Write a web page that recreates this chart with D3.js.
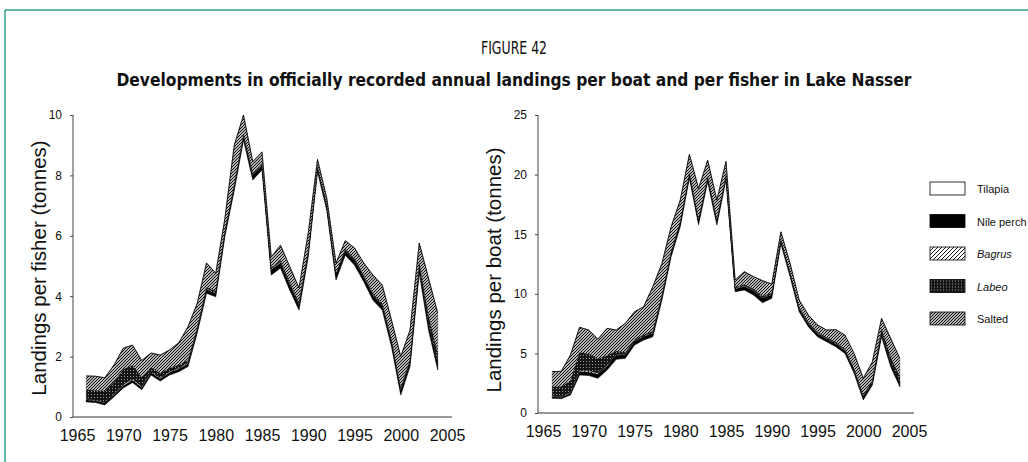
<!DOCTYPE html>
<html>
<head>
<meta charset="utf-8">
<script src="https://cdn.jsdelivr.net/npm/d3@7"></script>
<style>
  body { margin: 0; background: #fff; }
  svg { display: block; font-family: "Liberation Sans", Arial, sans-serif; }
</style>
</head>
<body>
<svg id="chart" width="1028" height="462"></svg>
<script>
const years = d3.range(1966, 2005);
const species = ["Tilapia", "Nile perch", "Bagrus", "Labeo", "Salted"];
const xTicks = [1965, 1970, 1975, 1980, 1985, 1990, 1995, 2000, 2005];

// landings per fisher (tonnes), 1966-2004
const fisherTilapia = [0.50, 0.48, 0.40, 0.67, 0.96, 1.14, 0.90, 1.39, 1.19, 1.39, 1.50, 1.67, 2.78, 4.10, 3.98, 6.00, 7.50, 9.17, 7.85, 8.18,
  4.70, 4.93, 4.20, 3.54, 5.30, 8.12, 6.85, 4.54, 5.36, 5.03, 4.48, 3.87, 3.54, 2.33, 0.73, 1.67, 4.77, 2.88, 1.56];
const fisherNilePerch = [0.06, 0.06, 0.06, 0.07, 0.08, 0.08, 0.08, 0.08, 0.08, 0.08, 0.09, 0.10, 0.10, 0.12, 0.12, 0.12, 0.12, 0.12, 0.15, 0.15,
  0.18, 0.18, 0.18, 0.18, 0.15, 0.12, 0.12, 0.15, 0.15, 0.15, 0.15, 0.15, 0.15, 0.15, 0.15, 0.15, 0.15, 0.20, 0.20];
const fisherBagrus = [0.02, 0.02, 0.02, 0.03, 0.04, 0.04, 0.03, 0.03, 0.03, 0.03, 0.03, 0.03, 0.03, 0.03, 0.03, 0.03, 0.03, 0.03, 0.03, 0.03,
  0.03, 0.03, 0.03, 0.03, 0.03, 0.02, 0.02, 0.02, 0.02, 0.02, 0.02, 0.02, 0.02, 0.02, 0.02, 0.02, 0.03, 0.03, 0.03];
const fisherLabeo = [0.32, 0.32, 0.38, 0.40, 0.50, 0.45, 0.30, 0.15, 0.15, 0.12, 0.10, 0.08, 0.06, 0.05, 0.05, 0.05, 0.05, 0.04, 0.04, 0.04,
  0.04, 0.04, 0.04, 0.04, 0.04, 0.03, 0.03, 0.04, 0.04, 0.04, 0.04, 0.05, 0.05, 0.05, 0.05, 0.06, 0.15, 0.25, 0.30];
const fisherSalted = [0.46, 0.47, 0.44, 0.55, 0.70, 0.67, 0.56, 0.47, 0.60, 0.60, 0.74, 1.11, 0.80, 0.80, 0.58, 0.40, 1.30, 0.64, 0.38, 0.38,
  0.35, 0.51, 0.53, 0.48, 0.58, 0.24, 0.23, 0.35, 0.27, 0.36, 0.41, 0.61, 0.61, 0.66, 1.05, 0.98, 0.66, 1.24, 1.35];

// landings per boat (tonnes), 1966-2004
const boatTilapia = [1.23, 1.20, 1.51, 3.19, 3.15, 2.91, 3.60, 4.50, 4.59, 5.70, 6.12, 6.40, 9.48, 13.10, 15.63, 19.69, 15.80, 19.40, 15.77, 19.55,
  10.18, 10.32, 9.90, 9.25, 9.62, 14.20, 11.44, 8.50, 7.24, 6.40, 5.98, 5.56, 5.00, 3.33, 1.09, 2.35, 6.40, 3.88, 2.20];
const boatNilePerch = [0.12, 0.12, 0.15, 0.30, 0.30, 0.35, 0.35, 0.35, 0.30, 0.30, 0.30, 0.30, 0.30, 0.30, 0.30, 0.30, 0.30, 0.30, 0.30, 0.30,
  0.25, 0.30, 0.35, 0.40, 0.30, 0.25, 0.25, 0.25, 0.25, 0.25, 0.25, 0.25, 0.25, 0.25, 0.25, 0.25, 0.30, 0.35, 0.35];
const boatBagrus = [0.05, 0.05, 0.05, 0.10, 0.10, 0.10, 0.08, 0.05, 0.05, 0.05, 0.05, 0.05, 0.05, 0.05, 0.05, 0.05, 0.05, 0.05, 0.05, 0.05,
  0.05, 0.05, 0.05, 0.05, 0.05, 0.05, 0.05, 0.05, 0.05, 0.05, 0.05, 0.05, 0.05, 0.05, 0.05, 0.05, 0.05, 0.05, 0.05];
const boatLabeo = [0.80, 0.85, 1.00, 1.50, 1.40, 1.20, 0.80, 0.30, 0.15, 0.12, 0.10, 0.10, 0.08, 0.08, 0.08, 0.08, 0.08, 0.08, 0.08, 0.08,
  0.08, 0.10, 0.10, 0.12, 0.10, 0.08, 0.08, 0.08, 0.08, 0.08, 0.08, 0.08, 0.08, 0.08, 0.08, 0.10, 0.30, 0.40, 0.40];
const boatSalted = [1.27, 1.28, 2.16, 2.10, 2.01, 1.64, 2.27, 1.76, 2.43, 2.33, 2.35, 3.75, 2.65, 2.10, 1.81, 1.58, 2.62, 1.37, 1.67, 1.12,
  0.60, 1.09, 1.04, 1.28, 0.75, 0.62, 0.74, 0.60, 0.60, 0.60, 0.60, 1.05, 1.16, 1.29, 1.44, 1.55, 0.89, 1.58, 1.59];

const svg = d3.select("#chart");
const defs = svg.append("defs");

// fills
const bag = defs.append("pattern").attr("id", "pBagrus").attr("patternUnits", "userSpaceOnUse")
  .attr("width", 4).attr("height", 4);
bag.append("rect").attr("width", 4).attr("height", 4).attr("fill", "#fff");
bag.append("path").attr("d", "M-1,1L1,-1M0,4L4,0M3,5L5,3").attr("stroke", "#000").attr("stroke-width", 0.9);

const lab = defs.append("pattern").attr("id", "pLabeo").attr("patternUnits", "userSpaceOnUse")
  .attr("width", 3).attr("height", 3);
lab.append("rect").attr("width", 3).attr("height", 3).attr("fill", "#151515");
lab.append("rect").attr("x", 1).attr("y", 1).attr("width", 1).attr("height", 1).attr("fill", "#9a9a9a");

const sal = defs.append("pattern").attr("id", "pSalted").attr("patternUnits", "userSpaceOnUse")
  .attr("width", 3).attr("height", 3);
sal.append("rect").attr("width", 3).attr("height", 3).attr("fill", "#fff");
sal.append("path").attr("d", "M-1,1L1,-1M0,3L3,0M2,4L4,2").attr("stroke", "#000").attr("stroke-width", 1.1);

const fills = {
  "Tilapia": "#fff",
  "Nile perch": "#000",
  "Bagrus": "url(#pBagrus)",
  "Labeo": "url(#pLabeo)",
  "Salted": "url(#pSalted)"
};

// frame
svg.append("line").attr("x1", 5).attr("x2", 1028).attr("y1", 10).attr("y2", 10)
  .attr("stroke", "#2e9e8e").attr("stroke-width", 1.5);
svg.append("line").attr("x1", 5).attr("x2", 5).attr("y1", 10).attr("y2", 462)
  .attr("stroke", "#2e9e8e").attr("stroke-width", 1.5);

// titles
svg.append("text").attr("x", 514).attr("y", 54).attr("text-anchor", "middle")
  .style("font-family", "'Liberation Sans Narrow', 'DejaVu Sans Condensed', sans-serif")
  .style("font-size", "18px").attr("fill", "#111")
  .attr("textLength", 66).attr("lengthAdjust", "spacingAndGlyphs")
  .text("FIGURE 42");
svg.append("text").attr("x", 514).attr("y", 86).attr("text-anchor", "middle")
  .style("font-family", "'Liberation Sans Narrow', 'DejaVu Sans Condensed', sans-serif")
  .style("font-size", "18px").style("font-weight", "bold").attr("fill", "#111")
  .attr("textLength", 795).attr("lengthAdjust", "spacingAndGlyphs")
  .text("Developments in officially recorded annual landings per boat and per fisher in Lake Nasser");

function drawPanel(cfg) {
  const x = d3.scaleLinear().domain([1965, 2005]).range([cfg.x0, cfg.x1]);
  const y = d3.scaleLinear().domain([0, cfg.ymax]).range([cfg.yBottom, cfg.yTop]);

  const rows = years.map((yr, i) => {
    const r = { year: yr };
    species.forEach((s, k) => r[s] = cfg.series[k][i]);
    return r;
  });
  const stacked = d3.stack().keys(species)(rows);

  const g = svg.append("g");

  const area = d3.area()
    .x(d => x(d.data.year))
    .y0(d => y(d[0]))
    .y1(d => y(d[1]));

  g.selectAll(".layer").data(stacked).enter()
    .append("path")
    .attr("class", "layer")
    .attr("d", area)
    .attr("fill", d => fills[d.key])
    .attr("stroke", d => d.key == "Tilapia" ? "none" : "#000")
    .attr("stroke-width", d => d.key == "Nile perch" ? 0.6 : 0.3);

  // outline on the total
  g.append("path")
    .datum(stacked[stacked.length - 1])
    .attr("d", d3.line().x(d => x(d.data.year)).y(d => y(d[1])))
    .attr("fill", "none").attr("stroke", "#000").attr("stroke-width", 0.8);

  // y axis
  const yAxis = g.append("g")
    .attr("transform", `translate(${cfg.axisX},0)`)
    .call(d3.axisLeft(y).tickValues(cfg.yTicks).tickSize(3).tickPadding(8));
  yAxis.select(".domain").attr("stroke", "#444").attr("d", `M0,${cfg.yBottom}V${cfg.yTop}`);
  yAxis.selectAll(".tick line").attr("stroke", "#444");
  yAxis.selectAll("text").style("font-size", "12px").style("font-family", "'Liberation Sans', Arial, sans-serif").attr("fill", "#111");

  // x axis
  const xAxis = g.append("g")
    .attr("transform", `translate(0,${cfg.yBottom})`)
    .call(d3.axisBottom(x).tickValues(xTicks).tickFormat(d3.format("d")).tickSize(0).tickPadding(13));
  xAxis.select(".domain").attr("stroke", "#333").attr("stroke-width", 1.2)
    .attr("d", `M${cfg.axisX},0H${cfg.x1 + 5}`);
  xAxis.selectAll("text").style("font-size", "16px").style("font-family", "'Liberation Sans', Arial, sans-serif").attr("fill", "#111");

  // y title
  g.append("text")
    .attr("transform", `translate(${cfg.titleX},${cfg.titleY}) rotate(-90)`)
    .attr("text-anchor", "middle")
    .style("font-size", "20.5px").attr("fill", "#111")
    .text(cfg.ylabel);
}

drawPanel({
  series: [fisherTilapia, fisherNilePerch, fisherBagrus, fisherLabeo, fisherSalted],
  x0: 77, x1: 447, axisX: 73, yBottom: 417, yTop: 115, ymax: 10,
  yTicks: [0, 2, 4, 6, 8, 10],
  titleX: 46, titleY: 268,
  ylabel: "Landings per fisher (tonnes)"
});

drawPanel({
  series: [boatTilapia, boatNilePerch, boatBagrus, boatLabeo, boatSalted],
  x0: 543, x1: 909, axisX: 538, yBottom: 413, yTop: 115, ymax: 25,
  yTicks: [0, 5, 10, 15, 20, 25],
  titleX: 501, titleY: 270,
  ylabel: "Landings per boat (tonnes)"
});

// legend
const legend = svg.append("g").attr("transform", "translate(930,182)");
const item = legend.selectAll("g").data(species).enter().append("g")
  .attr("transform", (d, i) => `translate(0,${i * 32.5})`);
item.append("rect").attr("width", 35).attr("height", 13)
  .attr("fill", d => fills[d]).attr("stroke", "#000").attr("stroke-width", 0.8);
item.append("text").attr("x", 47).attr("y", 11)
  .style("font-size", "11px")
  .style("font-style", d => (d == "Bagrus" || d == "Labeo") ? "italic" : "normal")
  .attr("fill", "#111")
  .text(d => d);
</script>
</body>
</html>
